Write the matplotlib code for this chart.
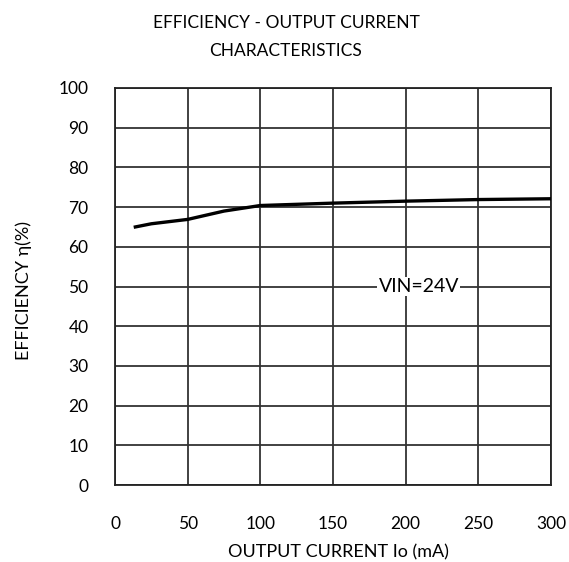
import matplotlib
matplotlib.use("Agg")
import matplotlib.pyplot as plt

plt.rcParams['font.family'] = ['Lato', 'DejaVu Sans']

current_ma = [14, 25, 50, 75, 100, 150, 200, 250, 300]
efficiency = [65.0, 65.8, 66.9, 69.0, 70.4, 71.0, 71.5, 71.9, 72.1]
x_ticks = [0, 50, 100, 150, 200, 250, 300]
y_ticks = [0, 10, 20, 30, 40, 50, 60, 70, 80, 90, 100]

fig = plt.figure(figsize=(5.69, 5.62), dpi=100)
ax = fig.add_axes([115/569, 1-485/562, 436/569, 397/562])
ax.plot(current_ma, efficiency, color='black', lw=2.4, zorder=3)
ax.set_xlim(0, 300)
ax.set_ylim(0, 100)
ax.set_xticks(x_ticks)
ax.set_yticks(y_ticks)
ax.grid(True, color='#333333', lw=1.3)
ax.tick_params(length=0, labelsize=12.5)
ax.tick_params(axis='y', pad=19)
ax.tick_params(axis='x', pad=22)
for s in ax.spines.values():
    s.set_linewidth(1.3)
    s.set_color('#222222')
fig.text(338/569, 1-552/562, 'OUTPUT CURRENT Io (mA)', fontsize=13, ha='center', va='center')
fig.text(24/569, 1-290/562, 'EFFICIENCY η(%)', fontsize=13, ha='center', va='center', rotation=90)
ax.text(209, 50, 'VIN=24V', fontsize=14, ha='center', va='center',
        bbox=dict(facecolor='white', edgecolor='none', pad=1.0), zorder=4)
fig.text(286/569, 1-23/562, 'EFFICIENCY - OUTPUT CURRENT', ha='center', va='center', fontsize=12.5)
fig.text(286/569, 1-51/562, 'CHARACTERISTICS', ha='center', va='center', fontsize=12.5)
fig.savefig('out.png', dpi=100)
